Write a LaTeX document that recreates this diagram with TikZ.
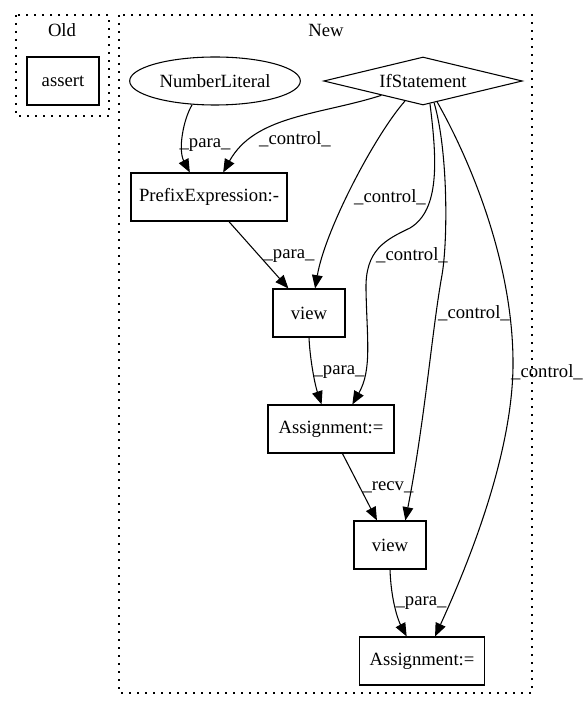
\documentclass[tikz,border=0pt]{standalone}
\usepackage{fontspec}
\setmainfont{Liberation Serif}
\usetikzlibrary{shapes.geometric,arrows.meta}
\begin{document}
\begin{tikzpicture}[x=0.75pt,y=-0.75pt,line width=0.8pt,
    every node/.style={font=\fontsize{14}{16}\selectfont},
    box/.style={draw,rectangle,minimum height=36pt,inner sep=0pt},
    cluster/.style={line width=1pt,dash pattern=on 1.2pt off 4.8pt},
    edge/.style={-{Triangle[length=10pt,width=8pt]}},
    lab/.style={inner sep=0pt}]
        \useasboundingbox (0,0) rectangle (587,712);
        \draw[cluster] (16,15) rectangle (109,116);
        \draw[cluster] (119,15) rectangle (532,693);
        \node (old) at (62,30) {Old};
        \node (new) at (326,30) {New};
        \node[box,minimum width=54pt] (assert) at (63,81) {assert};
        \node[draw,ellipse,minimum width=128pt,minimum height=36pt,inner sep=0pt] (nl) at (215,81) {NumberLiteral};
        \node[draw,diamond,aspect=4,minimum width=149pt,minimum height=36pt,inner sep=0pt] (ifs) at (423,81) {IfStatement};
        \node[box,minimum width=117pt] (pre) at (209,197) {PrefixExpression:-};
        \node[box,minimum width=54pt] (view1) at (309,313) {view};
        \node[box,minimum width=94.5pt] (asg1) at (331,429) {Assignment:=};
        \node[box,minimum width=54pt] (view2) at (390,545) {view};
        \node[box,minimum width=94pt] (asg2) at (422,661) {Assignment:=};
        \draw[edge] (nl.-134) .. controls (183,120) and (178,150) .. (pre.128);
        \node[lab] (l1) at (205,145) {\_para\_};
        \draw[edge] (ifs.199) .. controls (320,115) and (255,115) .. (pre.60);
        \node[lab] (l2) at (295,139) {\_control\_};
        \draw[edge] (ifs.228) .. controls (375,135) and (325,230) .. (view1.76);
        \node[lab] (l3) at (390,197) {\_control\_};
        \draw[edge] (ifs.-73) .. controls (437,160) and (440,210) .. (410,228) .. controls (385,240) and (365,250) .. (366,290) .. controls (367,340) and (372,370) .. (asg1.49);
        \node[lab] (l4) at (412,255) {\_control\_};
        \draw[edge] (ifs.-63) .. controls (448,150) and (448,240) .. (442,275) .. controls (432,330) and (425,420) .. (view2.58);
        \node[lab] (l5) at (474,313) {\_control\_};
        \draw[edge] (ifs.-56) .. controls (470,160) and (512,260) .. (513,360) .. controls (514,450) and (470,560) .. (asg2.62);
        \node[lab] (l6) at (547,372) {\_control\_};
        \draw[edge] (pre.-51) -- (view1.130);
        \node[lab] (l7) at (289,256) {\_para\_};
        \draw[edge] (view1.south) .. controls (310,360) and (315,385) .. (asg1.111);
        \node[lab] (l8) at (339,372) {\_para\_};
        \draw[edge] (asg1.-65) -- (view2.118);
        \node[lab] (l9) at (388,487) {\_recv\_};
        \draw[edge] (view2.south) .. controls (391,600) and (398,620) .. (asg2.122);
        \node[lab] (l10) at (421,603) {\_para\_};
\end{tikzpicture}
\end{document}
